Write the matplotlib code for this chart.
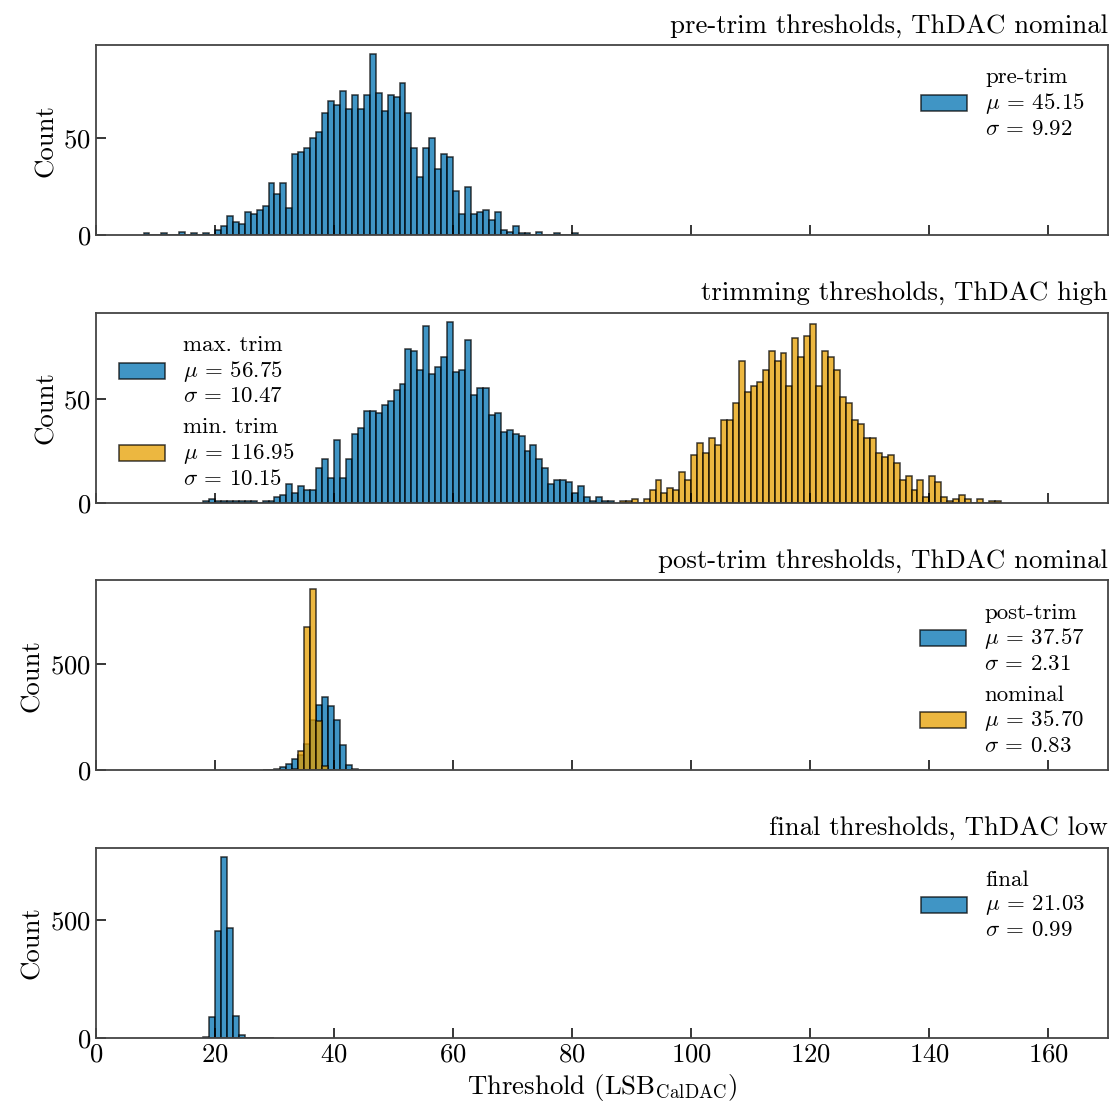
import numpy as np
from matplotlib import pyplot as plt
from matplotlib.ticker import MultipleLocator

# counts per integer threshold value (bar for value v spans [v, v+1))
pre_start = 8
pre_counts = [1, 0, 0, 1, 0, 0, 2, 0, 1, 0, 1, 0,
              3, 5, 10, 7, 6, 12, 11, 13, 15, 27, 21, 27, 14, 42, 43, 45, 50, 53,
              63, 69, 67, 74, 65, 72, 65, 72, 93, 73, 64, 72, 71, 78, 63, 45, 30,
              45, 50, 34, 42, 40, 23, 11, 25, 11, 12, 13, 8, 12, 3, 2, 5, 1, 1,
              0, 2, 0, 0, 1, 0, 0, 1]

maxtrim_start = 18
maxtrim_counts = [1, 2, 1, 1, 1, 1, 1, 1, 1, 0, 1, 1,
                  3, 4, 9, 5, 8, 6, 6, 17, 21, 12, 30, 12, 21, 33, 36, 44, 44, 43,
                  47, 49, 54, 57, 74, 73, 64, 85, 62, 65, 70, 87, 63, 64, 78, 52,
                  55, 55, 42, 43, 34, 35, 33, 32, 25, 28, 21, 17, 9, 11, 11, 10, 5,
                  8, 3, 1, 3, 1, 1]

mintrim_start = 88
mintrim_counts = [1, 1, 2, 0, 2, 6, 11, 5, 7, 6, 15, 11, 23, 29, 24, 31, 28, 40,
                  40, 48, 68, 53, 56, 58, 64, 73, 68, 72, 56, 79, 70, 80, 86, 56,
                  73, 70, 64, 51, 48, 40, 38, 31, 31, 24, 22, 23, 19, 11, 13, 6, 11,
                  3, 13, 10, 3, 1, 2, 4, 2, 0, 2, 0, 1, 1]

post_start = 28
post_counts = [1, 2, 5, 15, 31, 55, 75, 126, 236, 309, 347, 305, 239, 120, 27, 8, 3, 1]

nominal_start = 32
nominal_counts = [2, 6, 90, 676, 852, 234, 20, 2]

final_start = 18
final_counts = [5, 90, 453, 768, 465, 93, 13, 2, 1, 1, 1, 1]

titles = ["pre-trim thresholds, ThDAC nominal",
          "trimming thresholds, ThDAC high",
          "post-trim thresholds, ThDAC nominal",
          "final thresholds, ThDAC low"]

stats = {"pre-trim": (45.15, 9.92), "max. trim": (56.75, 10.47),
         "min. trim": (116.95, 10.15), "post-trim": (37.57, 2.31),
         "nominal": (35.70, 0.83), "final": (21.03, 0.99)}

BLUE = "#0072B2"
ORANGE = "#E69F00"

plt.rcParams.update({
    "font.family": "serif",
    "font.serif": ["cmr10"],
    "mathtext.fontset": "cm",
    "axes.formatter.use_mathtext": True,
    "font.size": 19.3,
    "axes.edgecolor": "#444444",
    "axes.linewidth": 1.3,
})


def label(name):
    mu, sd = stats[name]
    return f"{name}\n$\\mu$ = {mu:.2f}\n$\\sigma$ = {sd:.2f}"


def draw(ax, start, counts, color, name):
    vals = np.arange(start, start + len(counts))
    edges = np.arange(start, start + len(counts) + 1)
    ax.hist(vals, bins=edges, weights=counts, color=color, alpha=0.75,
            edgecolor="black", linewidth=1.1, label=label(name))


fig, axes = plt.subplots(4, 1, figsize=(11.15, 11.09), dpi=100, sharex=True)
fig.subplots_adjust(left=0.086, right=0.9937, top=0.9594, bottom=0.064, hspace=0.405)

draw(axes[0], pre_start, pre_counts, BLUE, "pre-trim")
draw(axes[1], maxtrim_start, maxtrim_counts, BLUE, "max. trim")
draw(axes[1], mintrim_start, mintrim_counts, ORANGE, "min. trim")
draw(axes[2], post_start, post_counts, BLUE, "post-trim")
draw(axes[2], nominal_start, nominal_counts, ORANGE, "nominal")
draw(axes[3], final_start, final_counts, BLUE, "final")

for i, ax in enumerate(axes):
    ax.set_title(titles[i], loc="right", fontsize=19.3, pad=9)
    ax.set_ylabel("Count")
    ax.set_xlim(0, 170)
    ax.set_ylim(bottom=0)
    ax.yaxis.set_major_locator(MultipleLocator(50 if i < 2 else 500))
    ax.xaxis.set_major_locator(MultipleLocator(20))
    ax.tick_params(direction="in", length=7, width=1.1, top=False, right=False)
    ax.legend(loc="upper left" if i == 1 else "upper right", frameon=False,
              fontsize=16.5, handlelength=2.0, borderaxespad=0.6)

axes[3].set_xlabel("Threshold (LSB$_{\\mathrm{CalDAC}}$)")

fig.savefig("out.png", dpi=100)
